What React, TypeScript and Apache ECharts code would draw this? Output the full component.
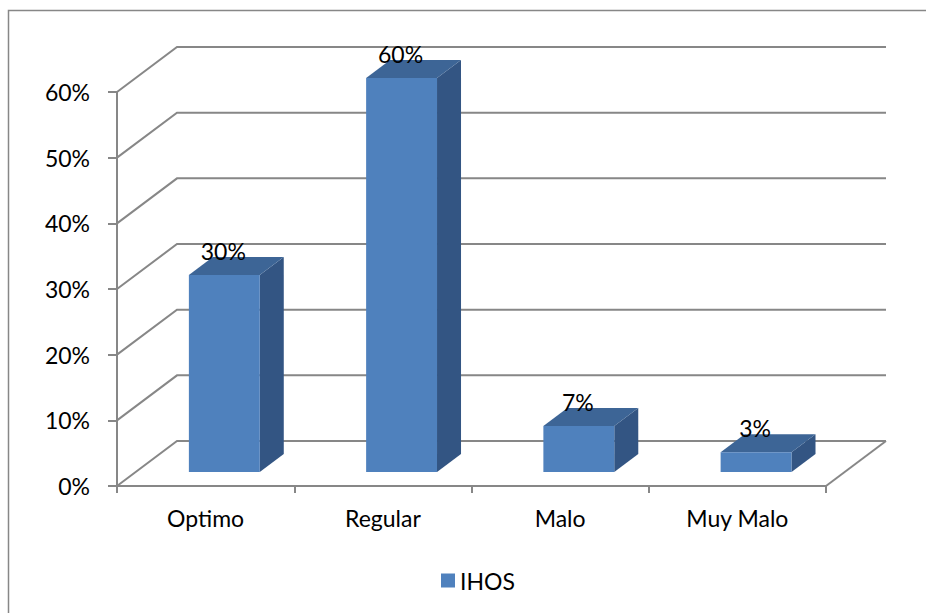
import { useEffect, useRef } from "react";
import * as echarts from "echarts";

const categories = ["Optimo", "Regular", "Malo", "Muy Malo"];
const values = [30, 60, 7, 3];
const seriesName = "IHOS";
const yTicks = [0, 10, 20, 30, 40, 50, 60];

export default function App() {
  const ref = useRef<HTMLDivElement>(null);

  useEffect(() => {
    const chart = echarts.init(ref.current!, null, { renderer: "svg" });
    const FONT = "Lato";
    const FS = 23;
    const GRAY = "#878787";
    const WALL_DX = 60;
    const WALL_DY = 45;
    const BAR_OFF_DX = 18.7;
    const BAR_OFF_DY = 14;
    const BAR_DX = 24;
    const BAR_DY = 18;
    const FRONT = "#4F81BD";
    const TOP = "#3D6596";
    const SIDE = "#335583";

    chart.setOption({
      animation: false,
      backgroundColor: "#ffffff",
      textStyle: { fontFamily: FONT },
      grid: { left: 117, top: 92, width: 709, height: 394, containLabel: false },
      legend: {
        data: [seriesName],
        left: 436,
        top: 564,
        icon: "rect",
        itemWidth: 14,
        itemHeight: 14,
        itemGap: 10,
        textStyle: { fontFamily: FONT, fontSize: FS, color: "#000" },
      },
      graphic: [
        {
          type: "rect",
          shape: { x: 8.5, y: 10.5, width: 1000, height: 700 },
          style: { fill: "none", stroke: GRAY, lineWidth: 1.5 },
          silent: true,
          z: -10,
        },
      ],
      xAxis: {
        type: "category",
        data: categories,
        boundaryGap: true,
        axisLine: { show: true, lineStyle: { color: GRAY, width: 2 } },
        axisTick: { show: true, length: 7, lineStyle: { color: GRAY, width: 2 } },
        axisLabel: { fontFamily: FONT, fontSize: FS, color: "#000", margin: 20 },
        splitLine: { show: false },
      },
      yAxis: {
        type: "value",
        min: 0,
        max: 60,
        interval: 10,
        axisLine: { show: true, lineStyle: { color: GRAY, width: 2 } },
        axisTick: { show: true, length: 9, lineStyle: { color: GRAY, width: 2 } },
        axisLabel: { fontFamily: FONT, fontSize: FS, color: "#000", margin: 27, formatter: "{value}%" },
        splitLine: { show: false },
      },
      series: [
        {
          type: "custom",
          name: "walls",
          clip: false,
          silent: true,
          z: 1,
          data: yTicks.map((t) => [0, t]),
          encode: { x: 0, y: 1 },
          renderItem: (params: any, api: any) => {
            const cs = params.coordSys;
            const v = api.value(1);
            const y = api.coord([0, v])[1];
            const left = cs.x;
            const right = cs.x + cs.width;
            const children: any[] = [
              {
                type: "polyline",
                shape: {
                  points: [
                    [left, y],
                    [left + WALL_DX, y - WALL_DY],
                    [right + WALL_DX, y - WALL_DY],
                  ],
                },
                style: { stroke: GRAY, lineWidth: 2, fill: "none" },
              },
            ];
            if (v === 0) {
              children.push({
                type: "line",
                shape: { x1: right, y1: y, x2: right + WALL_DX, y2: y - WALL_DY },
                style: { stroke: GRAY, lineWidth: 2 },
              });
            }
            return { type: "group", children };
          },
        },
        {
          type: "custom",
          name: seriesName,
          clip: false,
          z: 2,
          itemStyle: { color: FRONT },
          data: values.map((v, i) => [i, v]),
          encode: { x: 0, y: 1 },
          renderItem: (params: any, api: any) => {
            const i = api.value(0);
            const v = api.value(1);
            const top = api.coord([i, v]);
            const base = api.coord([i, 0]);
            const w = api.size([1, 0])[0] * 0.4;
            const cx = top[0] + BAR_OFF_DX;
            const x0 = cx - w / 2;
            const x1 = cx + w / 2;
            const yT = top[1] - BAR_OFF_DY;
            const yB = base[1] - BAR_OFF_DY;
            return {
              type: "group",
              children: [
                {
                  type: "polygon",
                  shape: { points: [[x1, yB], [x1 + BAR_DX, yB - BAR_DY], [x1 + BAR_DX, yT - BAR_DY], [x1, yT]] },
                  style: { fill: SIDE },
                },
                {
                  type: "polygon",
                  shape: { points: [[x0, yT], [x0 + BAR_DX, yT - BAR_DY], [x1 + BAR_DX, yT - BAR_DY], [x1, yT]] },
                  style: { fill: TOP },
                },
                {
                  type: "rect",
                  shape: { x: x0, y: yT, width: w, height: yB - yT },
                  style: { fill: FRONT },
                },
                {
                  type: "text",
                  style: {
                    text: v + "%",
                    x: cx - 1,
                    y: yT - BAR_DY + 5,
                    align: "center",
                    verticalAlign: "bottom",
                    fontFamily: FONT,
                    fontSize: FS,
                    fill: "#000",
                  },
                },
              ],
            };
          },
        },
      ],
    });

    return () => chart.dispose();
  }, []);

  return (
    <div
      ref={ref}
      style={{ position: "fixed", left: 0, top: 0, width: 926, height: 613, background: "#fff" }}
    />
  );
}
